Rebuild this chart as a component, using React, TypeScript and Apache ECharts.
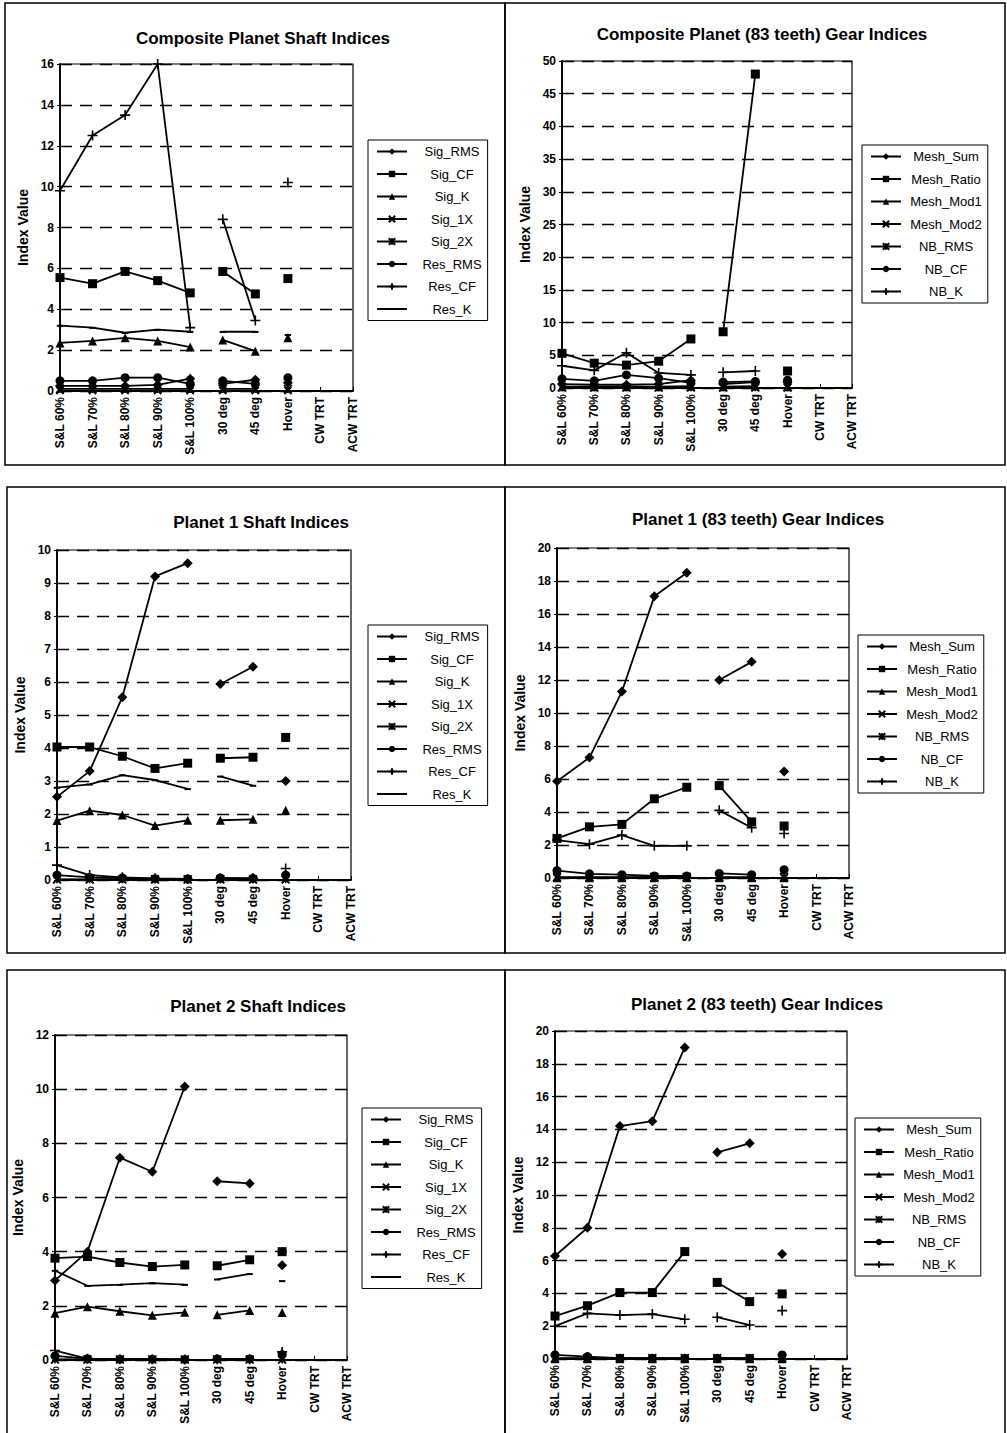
import React, { useEffect, useRef } from "react";
import * as echarts from "echarts";

// ---------- DATA ----------
const categories = ["S&L 60%", "S&L 70%", "S&L 80%", "S&L 90%", "S&L 100%", "30 deg", "45 deg", "Hover", "CW TRT", "ACW TRT"];

const shaftNames = ["Sig_RMS", "Sig_CF", "Sig_K", "Sig_1X", "Sig_2X", "Res_RMS", "Res_CF", "Res_K"];
const gearNames = ["Mesh_Sum", "Mesh_Ratio", "Mesh_Mod1", "Mesh_Mod2", "NB_RMS", "NB_CF", "NB_K"];

const titles = [
  "Composite Planet Shaft Indices",
  "Composite Planet (83 teeth) Gear Indices",
  "Planet 1 Shaft Indices",
  "Planet 1 (83 teeth) Gear Indices",
  "Planet 2 Shaft Indices",
  "Planet 2 (83 teeth) Gear Indices",
];
const yMax = [16, 50, 10, 20, 12, 20];
const yStep = [2, 5, 1, 2, 2, 2];

// Composite Planet Shaft
const cpsSigRMS = [0.25, 0.25, 0.25, 0.3, 0.6, 0.35, 0.55, 0.4, null, null];
const cpsSigCF = [5.55, 5.25, 5.85, 5.4, 4.8, 5.85, 4.75, 5.5, null, null];
const cpsSigK = [2.35, 2.45, 2.6, 2.45, 2.15, 2.5, 1.95, 2.6, null, null];
const cpsSig1X = [0.02, 0.02, 0.02, 0.02, 0.02, 0.02, 0.02, 0.02, null, null];
const cpsSig2X = [0.1, 0.1, 0.1, 0.1, 0.1, 0.1, 0.1, 0.1, null, null];
const cpsResRMS = [0.5, 0.5, 0.65, 0.65, 0.35, 0.5, 0.35, 0.65, null, null];
const cpsResCF = [9.8, 12.5, 13.5, 16.0, 3.1, 8.4, 3.45, 10.2, null, null];
const cpsResK = [3.2, 3.1, 2.85, 3.0, 2.9, 2.9, 2.9, 2.75, null, null];

// Composite Planet Gear
const cpgMeshSum = [0.6, 0.5, 0.5, 0.6, 1.2, 0.6, 0.9, 0.9, null, null];
const cpgMeshRatio = [5.3, 3.8, 3.5, 4.1, 7.5, 8.6, 48.0, 2.6, null, null];
const cpgMeshMod1 = [0.2, 0.2, 0.2, 0.2, 0.3, 0.2, 0.3, 0.2, null, null];
const cpgMeshMod2 = [0.05, 0.05, 0.05, 0.05, 0.05, 0.05, 0.05, 0.05, null, null];
const cpgNBRMS = [0.1, 0.1, 0.1, 0.1, 0.1, 0.1, 0.1, 0.1, null, null];
const cpgNBCF = [1.4, 1.1, 2.0, 1.5, 0.8, 0.9, 1.0, 1.2, null, null];
const cpgNBK = [3.4, 2.7, 5.4, 2.3, 2.0, 2.4, 2.6, null, null, null];

// Planet 1 Shaft
const p1sSigRMS = [2.52, 3.3, 5.54, 9.2, 9.6, 5.94, 6.46, 3.0, null, null];
const p1sSigCF = [4.03, 4.03, 3.75, 3.38, 3.54, 3.69, 3.72, 4.32, null, null];
const p1sSigK = [1.8, 2.1, 1.97, 1.65, 1.81, 1.81, 1.84, 2.11, null, null];
const p1sSig1X = [0.01, 0.01, 0.01, 0.01, 0.01, 0.01, 0.01, 0.01, null, null];
const p1sSig2X = [0.02, 0.02, 0.02, 0.02, 0.02, 0.02, 0.02, 0.02, null, null];
const p1sResRMS = [0.15, 0.08, 0.06, 0.04, 0.03, 0.06, 0.05, 0.15, null, null];
const p1sResCF = [0.45, 0.15, 0.08, 0.05, 0.03, 0.05, 0.05, 0.35, null, null];
const p1sResK = [2.8, 2.9, 3.18, 3.03, 2.76, 3.14, 2.86, null, null, null];

// Planet 1 Gear
const p1gMeshSum = [5.86, 7.3, 11.3, 17.07, 18.5, 12.0, 13.1, 6.45, null, null];
const p1gMeshRatio = [2.4, 3.1, 3.25, 4.8, 5.5, 5.6, 3.4, 3.15, null, null];
const p1gMeshMod1 = [0.02, 0.02, 0.02, 0.02, 0.02, 0.02, 0.02, 0.02, null, null];
const p1gMeshMod2 = [0.01, 0.01, 0.01, 0.01, 0.01, 0.01, 0.01, 0.01, null, null];
const p1gNBRMS = [0.05, 0.05, 0.05, 0.05, 0.05, 0.05, 0.05, 0.05, null, null];
const p1gNBCF = [0.45, 0.25, 0.2, 0.12, 0.12, 0.28, 0.2, 0.5, null, null];
const p1gNBK = [2.3, 2.05, 2.6, 1.95, 1.95, 4.1, 3.05, 2.7, null, null];

// Planet 2 Shaft
const p2sSigRMS = [2.94, 4.0, 7.47, 6.95, 10.1, 6.6, 6.52, 3.5, null, null];
const p2sSigCF = [3.76, 3.82, 3.6, 3.45, 3.51, 3.48, 3.7, 4.0, null, null];
const p2sSigK = [1.73, 1.97, 1.8, 1.65, 1.76, 1.67, 1.83, 1.75, null, null];
const p2sSig1X = [0.01, 0.01, 0.01, 0.01, 0.01, 0.01, 0.01, 0.01, null, null];
const p2sSig2X = [0.02, 0.02, 0.02, 0.02, 0.02, 0.02, 0.02, 0.02, null, null];
const p2sResRMS = [0.15, 0.05, 0.03, 0.03, 0.02, 0.04, 0.04, 0.2, null, null];
const p2sResCF = [0.35, 0.05, 0.03, 0.03, 0.02, 0.03, 0.03, 0.3, null, null];
const p2sResK = [3.3, 2.74, 2.78, 2.84, 2.78, 2.98, 3.18, 2.92, null, null];

// Planet 2 Gear
const p2gMeshSum = [6.28, 8.0, 14.2, 14.5, 19.0, 12.6, 13.15, 6.4, null, null];
const p2gMeshRatio = [2.62, 3.25, 4.05, 4.05, 6.55, 4.67, 3.5, 3.97, null, null];
const p2gMeshMod1 = [0.02, 0.02, 0.02, 0.02, 0.02, 0.02, 0.02, 0.02, null, null];
const p2gMeshMod2 = [0.01, 0.01, 0.01, 0.01, 0.01, 0.01, 0.01, 0.01, null, null];
const p2gNBRMS = [0.05, 0.05, 0.05, 0.05, 0.05, 0.05, 0.05, 0.05, null, null];
const p2gNBCF = [0.25, 0.15, 0.05, 0.05, 0.05, 0.05, 0.05, 0.25, null, null];
const p2gNBK = [2.0, 2.78, 2.68, 2.74, 2.42, 2.55, 2.07, 2.95, null, null];

const panelData = [
  [cpsSigRMS, cpsSigCF, cpsSigK, cpsSig1X, cpsSig2X, cpsResRMS, cpsResCF, cpsResK],
  [cpgMeshSum, cpgMeshRatio, cpgMeshMod1, cpgMeshMod2, cpgNBRMS, cpgNBCF, cpgNBK],
  [p1sSigRMS, p1sSigCF, p1sSigK, p1sSig1X, p1sSig2X, p1sResRMS, p1sResCF, p1sResK],
  [p1gMeshSum, p1gMeshRatio, p1gMeshMod1, p1gMeshMod2, p1gNBRMS, p1gNBCF, p1gNBK],
  [p2sSigRMS, p2sSigCF, p2sSigK, p2sSig1X, p2sSig2X, p2sResRMS, p2sResCF, p2sResK],
  [p2gMeshSum, p2gMeshRatio, p2gMeshMod1, p2gMeshMod2, p2gNBRMS, p2gNBCF, p2gNBK],
];
const panelNames = [shaftNames, gearNames, shaftNames, gearNames, shaftNames, gearNames];

// segments of the category axis drawn as separate line pieces
const segments = [[0, 4], [5, 6], [7, 9]];

// ---------- LAYOUT / STYLE ----------
const FONT = "'Liberation Sans', Arial, Helvetica, sans-serif";
const layout = [
  { frame: [5, 3, 500, 462], title: [258, 25], grid: [60, 64, 293, 327], legend: [368, 140] },
  { frame: [505, 3, 500, 462], title: [757, 21], grid: [562, 61, 290, 327], legend: [862, 145] },
  { frame: [7, 487, 498, 466], title: [256, 509], grid: [57, 550, 294, 330], legend: [368, 625] },
  { frame: [505, 487, 500, 466], title: [753, 506], grid: [557, 548, 292, 330], legend: [858, 635] },
  { frame: [7, 970, 498, 470], title: [253, 993], grid: [55, 1035, 292, 325], legend: [362, 1108] },
  { frame: [505, 970, 500, 470], title: [752, 991], grid: [555, 1031, 292, 328], legend: [855, 1118] },
];

const symbolStyles = [
  { symbol: "diamond", size: 10, stroke: false },
  { symbol: "rect", size: 9, stroke: false },
  { symbol: "triangle", size: 9, stroke: false },
  { symbol: "path://M0,0L10,10M10,0L0,10", size: 7, stroke: true },
  { symbol: "path://M0,0L10,10M10,0L0,10M5,0L5,10", size: 8, stroke: true },
  { symbol: "circle", size: 9, stroke: false },
  { symbol: "path://M5,0L5,10M0,5L10,5", size: 10, stroke: true },
  { symbol: "path://M0,0M1,4L9,4L9,6.5L1,6.5ZM10,10", size: 8, stroke: false },
];

function buildOption() {
  const grid: any[] = [];
  const xAxis: any[] = [];
  const yAxis: any[] = [];
  const series: any[] = [];
  const legend: any[] = [];
  const title: any[] = [];
  const graphic: any[] = [];

  layout.forEach((L, pi) => {
    graphic.push({
      type: "rect",
      shape: { x: L.frame[0], y: L.frame[1], width: L.frame[2], height: L.frame[3] },
      style: { fill: "none", stroke: "#000", lineWidth: 1.5 },
      silent: true,
      z: -10,
    });
    title.push({
      text: titles[pi],
      left: L.title[0],
      top: L.title[1],
      textAlign: "center",
      textStyle: { fontFamily: FONT, fontSize: 17, fontWeight: "bold", color: "#000" },
    });
    grid.push({
      left: L.grid[0],
      top: L.grid[1],
      width: L.grid[2],
      height: L.grid[3],
      show: true,
      backgroundColor: "#fff",
      borderColor: "#000",
      borderWidth: 1.2,
    });
    xAxis.push({
      type: "category",
      gridIndex: pi,
      data: categories,
      boundaryGap: false,
      axisLine: { lineStyle: { color: "#000", width: 1.8 } },
      axisTick: { show: true, inside: true, length: 4, lineStyle: { color: "#000" } },
      axisLabel: {
        interval: 0,
        rotate: 90,
        margin: 6,
        color: "#000",
        fontFamily: FONT,
        fontSize: 12,
        fontWeight: "bold",
      },
      splitLine: { show: false },
    });
    yAxis.push({
      type: "value",
      gridIndex: pi,
      min: 0,
      max: yMax[pi],
      interval: yStep[pi],
      name: "Index Value",
      nameLocation: "middle",
      nameGap: 30,
      nameTextStyle: { fontFamily: FONT, fontSize: 14, fontWeight: "bold", color: "#000" },
      axisLine: { show: true, lineStyle: { color: "#000", width: 1.8 } },
      axisTick: { show: true, length: 3, lineStyle: { color: "#000" } },
      axisLabel: { color: "#000", fontFamily: FONT, fontSize: 12, fontWeight: "bold", margin: 6 },
      splitLine: { show: true, lineStyle: { color: "#000", width: 1.3, type: [12, 8] } },
    });

    const names = panelNames[pi];
    names.forEach((name, mi) => {
      const vals = panelData[pi][mi];
      const sym = symbolStyles[mi];
      segments.forEach(([a, b]) => {
        series.push({
          type: "line",
          name,
          xAxisIndex: pi,
          yAxisIndex: pi,
          data: vals.map((v, i) => (i >= a && i <= b ? v : null)),
          connectNulls: false,
          symbol: sym.symbol,
          symbolSize: sym.size,
          showSymbol: true,
          showAllSymbol: true,
          clip: false,
          lineStyle: { color: "#000", width: 1.8 },
          itemStyle: {
            color: "#000",
            borderColor: "#000",
            borderWidth: sym.stroke ? 1.6 : 0,
          },
          emphasis: { disabled: true },
        });
      });
    });

    legend.push({
      orient: "vertical",
      left: L.legend[0],
      top: L.legend[1],
      data: names,
      itemWidth: 30,
      itemHeight: 8,
      itemGap: 9.5,
      padding: [5, 6, 5, 8],
      borderColor: "#000",
      borderWidth: 1,
      backgroundColor: "#fff",
      selectedMode: false,
      formatter: "{t|{name}}",
      textStyle: {
        fontFamily: FONT,
        fontSize: 13,
        color: "#000",
        rich: { t: { width: 80, align: "center", fontFamily: FONT, fontSize: 13, color: "#000" } },
      },
    });
  });

  return {
    animation: false,
    backgroundColor: "#fff",
    textStyle: { fontFamily: FONT },
    title,
    grid,
    xAxis,
    yAxis,
    legend,
    graphic,
    series,
  };
}

export default function App() {
  const ref = useRef<HTMLDivElement>(null);
  useEffect(() => {
    if (!ref.current) return;
    const chart = echarts.init(ref.current, undefined, { renderer: "svg" });
    chart.setOption(buildOption() as any);
    return () => chart.dispose();
  }, []);
  return (
    <div
      ref={ref}
      style={{ position: "absolute", left: 0, top: 0, width: 1007, height: 1433, background: "#fff" }}
    />
  );
}
